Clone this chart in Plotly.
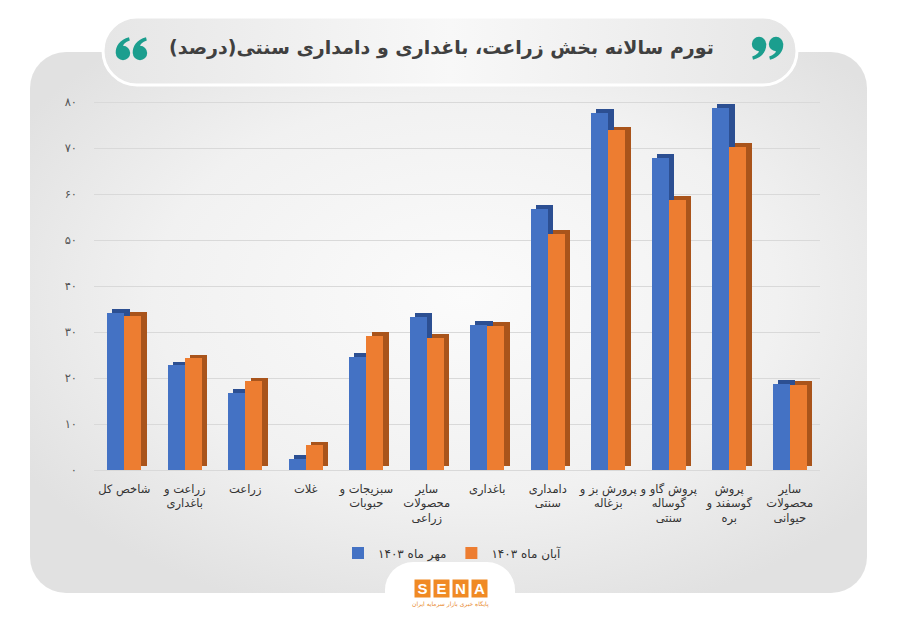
import base64
import plotly.graph_objects as go

# ---------------- data ----------------
categories = [
    "شاخص کل",
    "زراعت و<br>باغداری",
    "زراعت",
    "غلات",
    "سبزیجات و<br>حبوبات",
    "سایر<br>محصولات<br>زراعی",
    "باغداری",
    "دامداری<br>سنتی",
    "پرورش بز و<br>بزغاله",
    "پروش گاو و<br>گوساله<br>سنتی",
    "پروش<br>گوسفند و<br>بره",
    "سایر<br>محصولات<br>حیوانی",
]
mehr_1403 = [34.2, 22.8, 16.8, 2.5, 24.6, 33.3, 31.6, 56.8, 77.7, 67.9, 78.8, 18.7]
aban_1403 = [33.5, 24.3, 19.3, 5.4, 29.2, 28.8, 31.3, 51.4, 73.9, 58.7, 70.3, 18.5]
series_names = ["مهر ماه ۱۴۰۳", "آبان ماه ۱۴۰۳"]
y_tick_vals = [0, 10, 20, 30, 40, 50, 60, 70, 80]
y_tick_text = ["۰", "۱۰", "۲۰", "۳۰", "۴۰", "۵۰", "۶۰", "۷۰", "۸۰"]
title_text = "تورم سالانه بخش زراعت، باغداری و دامداری سنتی(درصد)"

RLM = "\u200f"
FONT = "DejaVu Sans"

# ---------------- geometry helpers (decorations only) ----------------
OFF = 8                      # page offset of the figure (body margin)
W, H = 892, 615              # figure size so that it fits in the 900x623 window
ML, MT = 94 - OFF, 93 - OFF
MR = W - (820 - OFF)
MB = H - (470 - OFF)
PW, PH = W - ML - MR, H - MT - MB


def px2x(px):
    return (px - OFF - ML) / PW


def py2y(py):
    return (H - MB - (py - OFF)) / PH


x_idx = list(range(len(categories)))
bar_w = 0.285
dx = 0.09      # depth, horizontal (category units)
dy = 0.8       # depth, vertical (value units)

blue, blue_dark = "#4472C4", "#2C4F92"
orange, orange_dark = "#ED7D31", "#A9541B"

fig = go.Figure()
fig.add_trace(go.Bar(x=x_idx, y=mehr_1403, base=dy, offset=-bar_w + dx, width=bar_w,
                     marker=dict(color=blue_dark, line=dict(width=0)),
                     showlegend=False, hoverinfo="skip"))
fig.add_trace(go.Bar(x=x_idx, y=mehr_1403, offset=-bar_w, width=bar_w,
                     name=RLM + series_names[0] + RLM,
                     marker=dict(color=blue, line=dict(width=0))))
fig.add_trace(go.Bar(x=x_idx, y=aban_1403, base=dy, offset=dx, width=bar_w,
                     marker=dict(color=orange_dark, line=dict(width=0)),
                     showlegend=False, hoverinfo="skip"))
fig.add_trace(go.Bar(x=x_idx, y=aban_1403, offset=0, width=bar_w,
                     name=RLM + series_names[1] + RLM,
                     marker=dict(color=orange, line=dict(width=0))))

# ---------------- background (card, title pill, quotes, logo tab) in page coords ----------------
six = ('<circle cx="0" cy="0" r="7.2"/>'
       '<path d="M -7.2 0.5 C -7.8 -7 -3 -13.5 6 -15.8 L 6.8 -12.6 C 2.2 -11 0.2 -8.8 0 -7 Z"/>')
quotes = (
    f'<g fill="#1B9E8E">'
    f'<g transform="translate(123,53)">{six}</g>'
    f'<g transform="translate(140,53)">{six}</g>'
    f'<g transform="translate(759,44) rotate(180)">{six}</g>'
    f'<g transform="translate(776,44) rotate(180)">{six}</g>'
    f'</g>'
)
svg = f'''<svg xmlns="http://www.w3.org/2000/svg" width="{W}" height="{H}" viewBox="{OFF} {OFF} {W} {H}">
<defs>
<radialGradient id="g" cx="52%" cy="45%" r="62%">
<stop offset="0" stop-color="#fbfbfb"/><stop offset="0.6" stop-color="#f1f1f1"/><stop offset="1" stop-color="#e1e1e1"/>
</radialGradient>
<linearGradient id="p" x1="0" x2="1" y1="0" y2="0">
<stop offset="0" stop-color="#e6e6e6"/><stop offset="0.5" stop-color="#f8f8f8"/><stop offset="1" stop-color="#e6e6e6"/>
</linearGradient>
</defs>
<rect x="0" y="0" width="920" height="640" fill="#ffffff"/>
<rect x="30" y="52" width="837" height="541" rx="36" ry="36" fill="url(#g)"/>
<rect x="103" y="17" width="694" height="68" rx="34" ry="34" fill="url(#p)" stroke="#ffffff" stroke-width="3"/>
{quotes}
<rect x="385" y="562" width="130" height="110" rx="28" ry="28" fill="#ffffff"/>
</svg>'''
src = "data:image/svg+xml;base64," + base64.b64encode(svg.encode("utf-8")).decode("ascii")

annotations = [
    dict(x=px2x(441), y=py2y(48), xref="paper", yref="paper", showarrow=False,
         text="<b>" + RLM + title_text + RLM + "</b>",
         font=dict(family=FONT, size=19, color="#404040"), xanchor="center", yanchor="middle"),
    dict(x=px2x(450), y=py2y(604), xref="paper", yref="paper", showarrow=False,
         text=RLM + "پایگاه خبری بازار سرمایه ایران" + RLM,
         font=dict(family=FONT, size=6, color="#E8892F"), xanchor="center", yanchor="middle"),
]
for i, ch in enumerate("SENA"):
    annotations.append(dict(
        x=px2x(422 + 19 * i), y=py2y(588), xref="paper", yref="paper", showarrow=False,
        text="<b>" + ch + "</b>", font=dict(family="Liberation Sans", size=15, color="#ffffff"),
        bgcolor="#F08A24", width=15, height=17, borderpad=0,
        xanchor="center", yanchor="middle"))

fig.update_layout(
    width=W, height=H,
    margin=dict(l=ML, r=MR, t=MT, b=MB, autoexpand=False),
    paper_bgcolor="rgba(0,0,0,0)", plot_bgcolor="rgba(0,0,0,0)",
    barmode="overlay",
    bargap=0,
    showlegend=True,
    legend=dict(orientation="h", x=px2x(452), xanchor="center", y=py2y(553), yanchor="middle",
                font=dict(family=FONT, size=12, color="#333333"),
                bgcolor="rgba(0,0,0,0)", traceorder="normal"),
    images=[dict(source=src, xref="paper", yref="paper",
                 x=-ML / PW, y=1 + MT / PH, sizex=W / PW, sizey=H / PH,
                 xanchor="left", yanchor="top", sizing="stretch", layer="below")],
    annotations=annotations,
    xaxis=dict(tickmode="array", tickvals=x_idx, ticktext=[RLM + c + RLM for c in categories],
               range=[-0.5, len(categories) - 0.5], showgrid=False, zeroline=False,
               showline=False, ticks="", tickangle=0, ticklabelstandoff=10,
               tickfont=dict(family=FONT, size=11.5, color="#333333")),
    yaxis=dict(tickmode="array", tickvals=y_tick_vals, ticktext=y_tick_text,
               range=[0, 82], showgrid=True, gridcolor="#d9d9d9", gridwidth=1,
               zeroline=True, zerolinecolor="#d9d9d9", zerolinewidth=1,
               showline=False, ticks="", ticklabelstandoff=16,
               tickfont=dict(family=FONT, size=11.5, color="#555555")),
    hovermode=False,
)

fig.write_html("out.html")
